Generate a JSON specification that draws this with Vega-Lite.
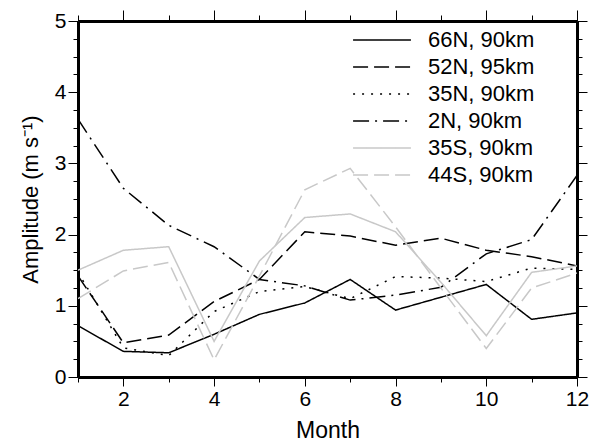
{
  "$schema": "https://vega.github.io/schema/vega-lite/v6.json",
  "width": 499,
  "height": 356,
  "autosize": {"type": "none"},
  "padding": {"left": 78, "top": 21, "right": 19, "bottom": 67},
  "config": {
    "font": "Liberation Sans",
    "view": {"stroke": null},
    "axis": {
      "domainColor": "black",
      "domainWidth": 3,
      "tickColor": "black",
      "tickWidth": 1,
      "labelFont": "Liberation Sans",
      "labelColor": "black",
      "titleFont": "Liberation Sans",
      "titleFontWeight": "normal",
      "titleColor": "black",
      "grid": false
    }
  },
  "data": {
    "values": [
      {"month": 1, "amp": 0.72, "series": "66N, 90km"},
      {"month": 2, "amp": 0.36, "series": "66N, 90km"},
      {"month": 3, "amp": 0.34, "series": "66N, 90km"},
      {"month": 4, "amp": 0.60, "series": "66N, 90km"},
      {"month": 5, "amp": 0.88, "series": "66N, 90km"},
      {"month": 6, "amp": 1.04, "series": "66N, 90km"},
      {"month": 7, "amp": 1.37, "series": "66N, 90km"},
      {"month": 8, "amp": 0.94, "series": "66N, 90km"},
      {"month": 9, "amp": 1.12, "series": "66N, 90km"},
      {"month": 10, "amp": 1.30, "series": "66N, 90km"},
      {"month": 11, "amp": 0.81, "series": "66N, 90km"},
      {"month": 12, "amp": 0.90, "series": "66N, 90km"},
      {"month": 1, "amp": 1.42, "series": "52N, 95km"},
      {"month": 2, "amp": 0.48, "series": "52N, 95km"},
      {"month": 3, "amp": 0.59, "series": "52N, 95km"},
      {"month": 4, "amp": 1.06, "series": "52N, 95km"},
      {"month": 5, "amp": 1.37, "series": "52N, 95km"},
      {"month": 6, "amp": 2.04, "series": "52N, 95km"},
      {"month": 7, "amp": 1.98, "series": "52N, 95km"},
      {"month": 8, "amp": 1.85, "series": "52N, 95km"},
      {"month": 9, "amp": 1.95, "series": "52N, 95km"},
      {"month": 10, "amp": 1.78, "series": "52N, 95km"},
      {"month": 11, "amp": 1.69, "series": "52N, 95km"},
      {"month": 12, "amp": 1.56, "series": "52N, 95km"},
      {"month": 1, "amp": 1.47, "series": "35N, 90km"},
      {"month": 2, "amp": 0.41, "series": "35N, 90km"},
      {"month": 3, "amp": 0.30, "series": "35N, 90km"},
      {"month": 4, "amp": 0.92, "series": "35N, 90km"},
      {"month": 5, "amp": 1.20, "series": "35N, 90km"},
      {"month": 6, "amp": 1.27, "series": "35N, 90km"},
      {"month": 7, "amp": 1.10, "series": "35N, 90km"},
      {"month": 8, "amp": 1.41, "series": "35N, 90km"},
      {"month": 9, "amp": 1.39, "series": "35N, 90km"},
      {"month": 10, "amp": 1.34, "series": "35N, 90km"},
      {"month": 11, "amp": 1.53, "series": "35N, 90km"},
      {"month": 12, "amp": 1.51, "series": "35N, 90km"},
      {"month": 1, "amp": 3.62, "series": "2N, 90km"},
      {"month": 2, "amp": 2.65, "series": "2N, 90km"},
      {"month": 3, "amp": 2.13, "series": "2N, 90km"},
      {"month": 4, "amp": 1.83, "series": "2N, 90km"},
      {"month": 5, "amp": 1.37, "series": "2N, 90km"},
      {"month": 6, "amp": 1.28, "series": "2N, 90km"},
      {"month": 7, "amp": 1.08, "series": "2N, 90km"},
      {"month": 8, "amp": 1.15, "series": "2N, 90km"},
      {"month": 9, "amp": 1.26, "series": "2N, 90km"},
      {"month": 10, "amp": 1.73, "series": "2N, 90km"},
      {"month": 11, "amp": 1.93, "series": "2N, 90km"},
      {"month": 12, "amp": 2.83, "series": "2N, 90km"},
      {"month": 1, "amp": 1.50, "series": "35S, 90km"},
      {"month": 2, "amp": 1.78, "series": "35S, 90km"},
      {"month": 3, "amp": 1.83, "series": "35S, 90km"},
      {"month": 4, "amp": 0.50, "series": "35S, 90km"},
      {"month": 5, "amp": 1.63, "series": "35S, 90km"},
      {"month": 6, "amp": 2.24, "series": "35S, 90km"},
      {"month": 7, "amp": 2.29, "series": "35S, 90km"},
      {"month": 8, "amp": 2.04, "series": "35S, 90km"},
      {"month": 9, "amp": 1.33, "series": "35S, 90km"},
      {"month": 10, "amp": 0.58, "series": "35S, 90km"},
      {"month": 11, "amp": 1.47, "series": "35S, 90km"},
      {"month": 12, "amp": 1.56, "series": "35S, 90km"},
      {"month": 1, "amp": 1.10, "series": "44S, 90km"},
      {"month": 2, "amp": 1.49, "series": "44S, 90km"},
      {"month": 3, "amp": 1.61, "series": "44S, 90km"},
      {"month": 4, "amp": 0.24, "series": "44S, 90km"},
      {"month": 5, "amp": 1.42, "series": "44S, 90km"},
      {"month": 6, "amp": 2.63, "series": "44S, 90km"},
      {"month": 7, "amp": 2.93, "series": "44S, 90km"},
      {"month": 8, "amp": 2.11, "series": "44S, 90km"},
      {"month": 9, "amp": 1.25, "series": "44S, 90km"},
      {"month": 10, "amp": 0.40, "series": "44S, 90km"},
      {"month": 11, "amp": 1.25, "series": "44S, 90km"},
      {"month": 12, "amp": 1.46, "series": "44S, 90km"}
    ]
  },
  "layer": [
    {
      "mark": {"type": "line", "strokeWidth": 1.5, "clip": true},
      "encoding": {
        "x": {
          "field": "month", "type": "quantitative",
          "scale": {"domain": [1, 12], "nice": false, "zero": false},
          "axis": {
            "orient": "bottom",
            "title": "Month",
            "titleFontSize": 23,
            "titlePadding": 10,
            "labelFontSize": 21,
            "format": ".0f",
            "values": [1, 2, 3, 4, 5, 6, 7, 8, 9, 10, 11, 12],
            "labelExpr": "datum.value % 2 === 0 ? datum.label : ''",
            "tickSize": {"condition": {"test": "datum.value % 2 === 0", "value": 9}, "value": 5},
            "labelPadding": 2,
            "labelFlush": false,
            "labelOverlap": false
          }
        },
        "y": {
          "field": "amp", "type": "quantitative",
          "scale": {"domain": [0, 5], "nice": false, "zero": true},
          "axis": {
            "orient": "left",
            "title": "Amplitude (m s⁻¹)",
            "titleFontSize": 22,
            "titlePadding": 12,
            "labelFontSize": 21,
            "format": ".0f",
            "values": [0, 0.25, 0.5, 0.75, 1, 1.25, 1.5, 1.75, 2, 2.25, 2.5, 2.75, 3, 3.25, 3.5, 3.75, 4, 4.25, 4.5, 4.75, 5],
            "labelExpr": "datum.value % 1 === 0 ? datum.label : ''",
            "tickSize": {"condition": {"test": "datum.value % 1 === 0", "value": 10}, "value": 5},
            "labelPadding": 2,
            "labelFlush": false,
            "labelOverlap": false
          }
        },
        "color": {
          "field": "series", "type": "nominal",
          "scale": {
            "domain": ["66N, 90km", "52N, 95km", "35N, 90km", "2N, 90km", "35S, 90km", "44S, 90km"],
            "range": ["#000000", "#000000", "#000000", "#000000", "#c8c8c8", "#c8c8c8"]
          },
          "legend": {
            "title": null,
            "orient": "none",
            "legendX": 293,
            "legendY": 8,
            "padding": 0,
            "symbolType": "M-3,0H3",
            "symbolSize": 372,
            "symbolStrokeWidth": 1.5,
            "labelFontSize": 22,
            "labelFont": "Liberation Sans",
            "labelColor": "black",
            "labelOffset": 35,
            "rowPadding": 5
          }
        },
        "strokeDash": {
          "field": "series", "type": "nominal",
          "scale": {
            "domain": ["66N, 90km", "52N, 95km", "35N, 90km", "2N, 90km", "35S, 90km", "44S, 90km"],
            "range": [[1, 0], [15, 6], [2, 7], [16, 6, 2, 6], [1, 0], [15, 6]]
          },
          "legend": {
            "title": null,
            "orient": "none",
            "legendX": 293,
            "legendY": 8,
            "padding": 0,
            "symbolType": "M-3,0H3",
            "symbolSize": 372,
            "symbolStrokeWidth": 1.5,
            "labelFontSize": 22,
            "labelFont": "Liberation Sans",
            "labelColor": "black",
            "labelOffset": 35,
            "rowPadding": 5
          }
        }
      }
    },
    {
      "mark": {"type": "point", "opacity": 0},
      "encoding": {
        "x": {
          "field": "month", "type": "quantitative",
          "axis": {
            "orient": "top",
            "title": null,
            "labels": false,
            "values": [1, 2, 3, 4, 5, 6, 7, 8, 9, 10, 11, 12],
            "tickSize": {"condition": {"test": "datum.value % 2 === 0", "value": 11}, "value": 6}
          }
        },
        "y": {
          "field": "amp", "type": "quantitative",
          "axis": {
            "orient": "right",
            "title": null,
            "labels": false,
            "values": [0, 0.25, 0.5, 0.75, 1, 1.25, 1.5, 1.75, 2, 2.25, 2.5, 2.75, 3, 3.25, 3.5, 3.75, 4, 4.25, 4.5, 4.75, 5],
            "tickSize": {"condition": {"test": "datum.value % 1 === 0", "value": 10}, "value": 5}
          }
        }
      }
    }
  ],
  "resolve": {"axis": {"x": "independent", "y": "independent"}}
}
